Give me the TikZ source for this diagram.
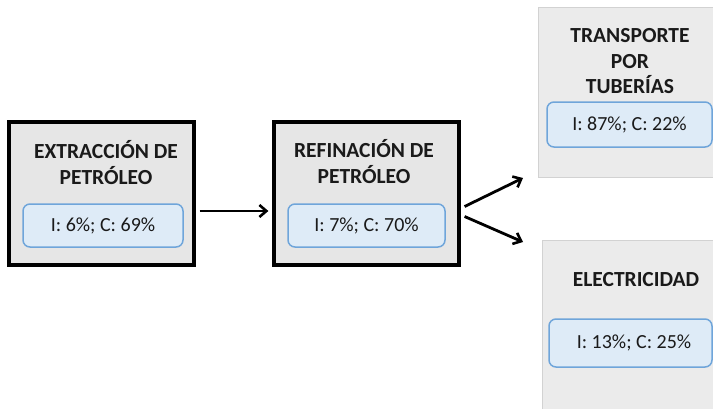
\documentclass[tikz,border=0pt]{standalone}
\usepackage{fontspec}
\setmainfont{Carlito}
\usetikzlibrary{arrows.meta}

\definecolor{grisfondo}{HTML}{E6E6E6}
\definecolor{grisclaro}{HTML}{EBEBEB}
\definecolor{grisborde}{HTML}{D2D2D2}
\definecolor{azulfondo}{HTML}{DEEBF7}
\definecolor{azulborde}{HTML}{6FA5DA}
\definecolor{tinta}{HTML}{1A1A1A}

\tikzset{
	etapa/.style={draw=black, line width=3.2pt, fill=grisfondo, inner sep=0pt},
	destino/.style={draw=grisborde, line width=1pt, fill=grisclaro, inner sep=0pt},
	indice/.style={draw=azulborde, line width=1.5pt, fill=azulfondo, rounded corners=7pt,
		inner sep=0pt, text=tinta, font=\fontsize{20}{24}\selectfont},
	titulo/.style={align=center, text=tinta, font=\fontsize{21.5}{25.5}\selectfont\bfseries},
	flecha/.style={line width=2.8pt, -{Straight Barb[length=7pt, width=12pt, line width=2.6pt]}}
}

\begin{document}
\begin{tikzpicture}[x=1pt, y=-1pt]

	\useasboundingbox (0, 0) rectangle (713, 408);

	% cajas principales
	\node[etapa, minimum width=185pt, minimum height=143pt] (extr) at (101.5, 193.5){};
	\node[etapa, minimum width=185pt, minimum height=143pt] (refi) at (366.5, 193.5){};
	\node[destino, minimum width=186pt, minimum height=170pt] (tube) at (631, 92){};
	\node[destino, minimum width=186pt, minimum height=176pt] (elec) at (635, 328){};

		% titulos
		\node[titulo] (extrT) at (106, 162.5){EXTRACCIÓN DE\\PETRÓLEO};
		\node[titulo] (refiT) at (364, 161.5){REFINACIÓN DE\\PETRÓLEO};
		\node[titulo] (tubeT) at (630, 61.5){TRANSPORTE\\POR\\TUBERÍAS};
		\node[titulo] (elecT) at (636, 280){ELECTRICIDAD};

		% indices
		\node[indice, minimum width=160pt, minimum height=43pt] (extrI) at (103, 225.5){I: 6\%; C: 69\%};
		\node[indice, minimum width=157pt, minimum height=43pt] (refiI) at (366.5, 225.5){I: 7\%; C: 70\%};
		\node[indice, minimum width=165pt, minimum height=45pt] (tubeI) at (629.5, 124.5){I: 87\%; C: 22\%};
		\node[indice, minimum width=163pt, minimum height=48pt] (elecI) at (630.5, 343){\hspace{7pt}I: 13\%; C: 25\%};

	% flechas
	\coordinate (haciaT) at (523, 178);
	\coordinate (haciaE) at (523, 242);
	\draw[flecha]([xshift=4pt, yshift=-17.5pt]extr.east) -- ([xshift=-4pt, yshift=-17.5pt]refi.west);
	\draw[flecha]([xshift=4pt, yshift=-13pt]refi.east) -- (haciaT);
	\draw[flecha]([xshift=4pt, yshift=-23pt]refi.east) -- (haciaE);

\end{tikzpicture}
\end{document}
